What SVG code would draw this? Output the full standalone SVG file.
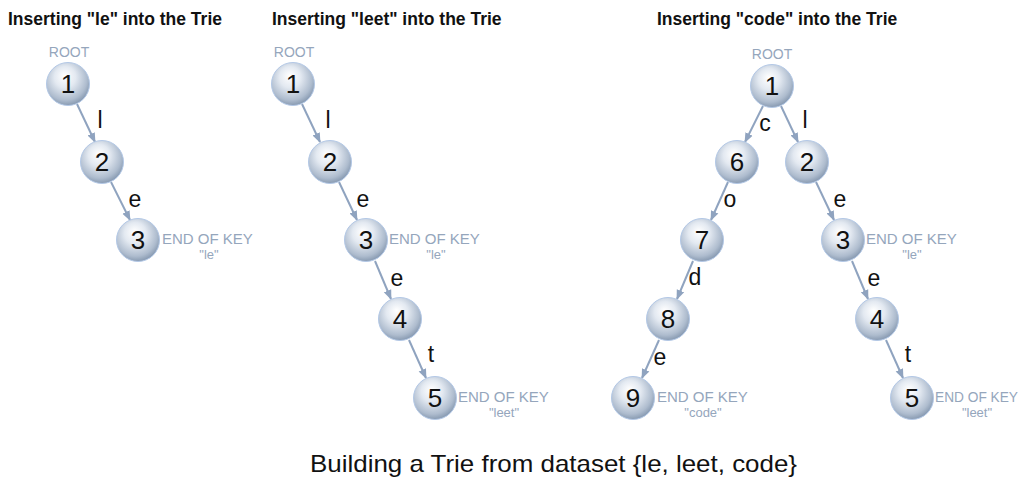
<svg xmlns="http://www.w3.org/2000/svg" width="1024" height="481" viewBox="0 0 1024 481">
<defs>
<radialGradient id="sph" cx="0.45" cy="0.4" r="0.62" fx="0.42" fy="0.3">
<stop offset="0" stop-color="#ffffff"/>
<stop offset="0.4" stop-color="#e3e9f1"/>
<stop offset="0.8" stop-color="#aebcce"/>
<stop offset="1" stop-color="#8295ad"/>
</radialGradient>
<marker id="ah" viewBox="0 0 10 10" refX="9" refY="5" markerWidth="5" markerHeight="5" orient="auto" markerUnits="strokeWidth">
<path d="M0,1 L10,5 L0,9 z" fill="#8fa3bf"/>
</marker>
</defs>
<style>
.title{font-family:"Liberation Sans",Arial,sans-serif;font-size:17.5px;font-weight:bold;fill:#111}
.caption{font-family:"Liberation Sans",Arial,sans-serif;font-size:24px;fill:#111}
.node circle{fill:url(#sph);stroke:#b3c8e6;stroke-width:1}
.node text{font-family:"Liberation Sans",Arial,sans-serif;font-size:26px;fill:#111;text-anchor:middle}
.note{font-family:"Liberation Sans",Arial,sans-serif;font-size:15px;fill:#95a6bc}
.sub{font-family:"Liberation Sans",Arial,sans-serif;font-size:13px;fill:#95a6bc;text-anchor:middle}
.root{font-family:"Liberation Sans",Arial,sans-serif;font-size:14px;fill:#95a6bc;text-anchor:middle}
.edge{stroke:#8fa3bf;stroke-width:2;fill:none;marker-end:url(#ah)}
.lbl{font-family:"Liberation Sans",Arial,sans-serif;font-size:23px;fill:#111;text-anchor:middle}
</style>
<rect width="1024" height="481" fill="#ffffff"/>
<text class="title" x="8" y="25">Inserting "le" into the Trie</text>
<text class="title" x="272" y="25">Inserting "leet" into the Trie</text>
<text class="title" x="657" y="25">Inserting "code" into the Trie</text>

<g id="connectors">
<line class="edge" x1="77" y1="104" x2="95" y2="142"/>
<line class="edge" x1="111" y1="182" x2="130" y2="220"/>
<line class="edge" x1="302" y1="104" x2="320" y2="142"/>
<line class="edge" x1="339" y1="182" x2="357" y2="220"/>
<line class="edge" x1="375" y1="261" x2="391" y2="299"/>
<line class="edge" x1="409" y1="340" x2="426" y2="378"/>
<line class="edge" x1="763" y1="106" x2="745" y2="142"/>
<line class="edge" x1="781" y1="106" x2="798" y2="142"/>
<line class="edge" x1="728" y1="182" x2="711" y2="220"/>
<line class="edge" x1="693" y1="261" x2="677" y2="299"/>
<line class="edge" x1="659" y1="340" x2="642" y2="378"/>
<line class="edge" x1="816" y1="182" x2="834" y2="220"/>
<line class="edge" x1="852" y1="261" x2="868" y2="299"/>
<line class="edge" x1="886" y1="340" x2="903" y2="378"/>
</g>

<g id="edge-labels">
<text class="lbl" x="100" y="128">l</text>
<text class="lbl" x="135" y="207">e</text>
<text class="lbl" x="328" y="128">l</text>
<text class="lbl" x="363" y="207">e</text>
<text class="lbl" x="397" y="286">e</text>
<text class="lbl" x="431" y="362">t</text>
<text class="lbl" x="765" y="131">c</text>
<text class="lbl" x="805" y="128">l</text>
<text class="lbl" x="730" y="207">o</text>
<text class="lbl" x="695" y="285">d</text>
<text class="lbl" x="660" y="365">e</text>
<text class="lbl" x="840" y="207">e</text>
<text class="lbl" x="874" y="286">e</text>
<text class="lbl" x="908" y="362">t</text>
</g>

<g id="p1-n1" class="node"><circle cx="68" cy="84" r="21.5"/><text x="68" y="93">1</text></g>
<g id="p1-n2" class="node"><circle cx="102" cy="162" r="21.5"/><text x="102" y="171">2</text></g>
<g id="p1-n3" class="node"><circle cx="138" cy="240" r="21.5"/><text x="138" y="249">3</text></g>
<g id="p2-n1" class="node"><circle cx="293" cy="84" r="21.5"/><text x="293" y="93">1</text></g>
<g id="p2-n2" class="node"><circle cx="330" cy="162" r="21.5"/><text x="330" y="171">2</text></g>
<g id="p2-n3" class="node"><circle cx="366" cy="240" r="21.5"/><text x="366" y="249">3</text></g>
<g id="p2-n4" class="node"><circle cx="400" cy="319" r="21.5"/><text x="400" y="328">4</text></g>
<g id="p2-n5" class="node"><circle cx="435" cy="398" r="21.5"/><text x="435" y="407">5</text></g>
<g id="p3-n1" class="node"><circle cx="772" cy="86" r="21.5"/><text x="772" y="95">1</text></g>
<g id="p3-n6" class="node"><circle cx="737" cy="162" r="21.5"/><text x="737" y="171">6</text></g>
<g id="p3-n2" class="node"><circle cx="807" cy="162" r="21.5"/><text x="807" y="171">2</text></g>
<g id="p3-n7" class="node"><circle cx="702" cy="240" r="21.5"/><text x="702" y="249">7</text></g>
<g id="p3-n3" class="node"><circle cx="843" cy="240" r="21.5"/><text x="843" y="249">3</text></g>
<g id="p3-n8" class="node"><circle cx="668" cy="319" r="21.5"/><text x="668" y="328">8</text></g>
<g id="p3-n4" class="node"><circle cx="877" cy="319" r="21.5"/><text x="877" y="328">4</text></g>
<g id="p3-n9" class="node"><circle cx="633" cy="398" r="21.5"/><text x="633" y="407">9</text></g>
<g id="p3-n5" class="node"><circle cx="912" cy="398" r="21.5"/><text x="912" y="407">5</text></g>

<g id="annotations">
<text class="root" x="69" y="57">ROOT</text>
<text class="root" x="294" y="57">ROOT</text>
<text class="root" x="772" y="59">ROOT</text>
<text class="note" x="162" y="244">END OF KEY</text>
<text class="sub" x="209" y="259">"le"</text>
<text class="note" x="389" y="244">END OF KEY</text>
<text class="sub" x="436" y="259">"le"</text>
<text class="note" x="458" y="402">END OF KEY</text>
<text class="sub" x="504" y="417">"leet"</text>
<text class="note" x="657" y="402">END OF KEY</text>
<text class="sub" x="703" y="417">"code"</text>
<text class="note" x="866" y="244">END OF KEY</text>
<text class="sub" x="912" y="259">"le"</text>
<text class="note" x="935" y="402" textLength="83" lengthAdjust="spacingAndGlyphs">END OF KEY</text>
<text class="sub" x="977" y="417">"leet"</text>
</g>

<text class="caption" x="310" y="472" textLength="487" lengthAdjust="spacingAndGlyphs">Building a Trie from dataset {le, leet, code}</text>
</svg>
